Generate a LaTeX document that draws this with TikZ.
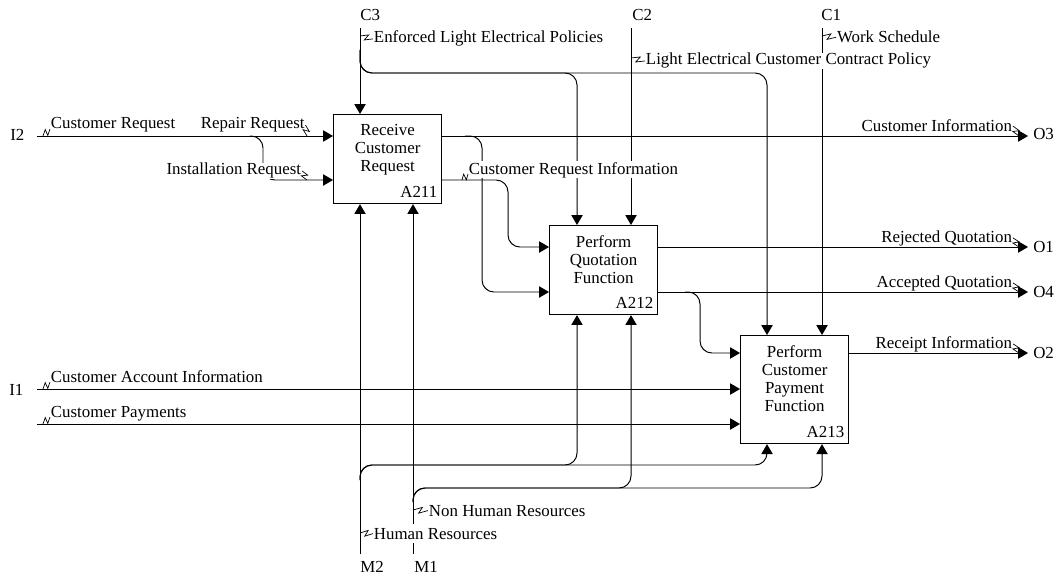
\documentclass[tikz,border=0pt]{standalone}
\usepackage{fontspec}
\setmainfont{Liberation Serif}
\usetikzlibrary{arrows.meta,calc}

\newcommand{\boxfont}{\fontsize{12}{12.8}\selectfont}
\newcommand{\squig}[2]{\draw[squigline] (#1) -- ($(#1)!.62!(#2)!2.1pt!90:(#2)$) -- ($(#1)!.38!(#2)!2.1pt!-90:(#2)$) -- (#2);}

\tikzset{
  flow/.style={draw, line width=0.7pt, rounded corners=8.5pt, -{Triangle[length=7pt,width=8pt]}},
  fnbox/.style={draw, line width=0.8pt, fill=white, anchor=north west, inner sep=0pt, minimum width=2.7cm, minimum height=2.225cm},
  fntext/.style={align=center, inner sep=0pt, anchor=north, font=\boxfont},
  fnid/.style={anchor=base east, inner sep=0pt, font=\boxfont},
  lbl/.style={fill=white, inner sep=0.5pt, font=\boxfont},
  edge/.style={anchor=base west, inner sep=0pt, font=\boxfont},
  squigline/.style={line width=0.5pt}
}

\begin{document}
\begin{tikzpicture}[x=0.025cm, y=-0.025cm]
  \useasboundingbox (0,0) rectangle (1056,577);

  % activities
  \node[fnbox] (a211) at (333,114) {};
  \node[fnbox] (a212) at (549,225) {};
  \node[fnbox, minimum height=2.7cm] (a213) at (740,335) {};
  \node[fntext] at ([yshift=-6.8pt]a211.north) {Receive\\Customer\\Request};
  \node[fntext] at ([yshift=-7pt]a212.north) {Perform\\Quotation\\Function};
  \node[fntext] at ([yshift=-7pt]a213.north) {Perform\\Customer\\Payment\\Function};
  \node[fnid] at ([xshift=-3.3pt,yshift=4.6pt]a211.south east) {A211};
  \node[fnid] at ([xshift=-3.3pt,yshift=4.6pt]a212.south east) {A212};
  \node[fnid] at ([xshift=-3.3pt,yshift=4.6pt]a213.south east) {A213};

  % boundary ends
  \coordinate (i2) at (37,136);
  \coordinate (i1) at (37,389);
  \coordinate (ip) at (37,424);
  \coordinate (c3) at (360,28);
  \coordinate (c2) at (631,28);
  \coordinate (c1) at (822,28);
  \coordinate (m2) at (360,554);
  \coordinate (m1) at (413,554);
  \coordinate (o3) at (1028,136);
  \coordinate (o1) at (1028,247);
  \coordinate (o4) at (1028,292);
  \coordinate (o2) at (1028,353);

  \node[edge] (i2lbl) at (10,141) {I2};
  \node[edge] (i1lbl) at (9,395) {I1};
  \node[edge] (c3lbl) at (360,21) {C3};
  \node[edge] (c2lbl) at (632,21) {C2};
  \node[edge] (c1lbl) at (821,21) {C1};
  \node[edge] (o3lbl) at (1033,140) {O3};
  \node[edge] (o1lbl) at (1033,252) {O1};
  \node[edge] (o4lbl) at (1033,297) {O4};
  \node[edge] (o2lbl) at (1033,358) {O2};
  \node[edge] (m2lbl) at (360,572) {M2};
  \node[edge] (m1lbl) at (414,572) {M1};

  % inputs
  \draw[flow] (i2) -- (i2 -| a211.west);
  \draw[flow] (250,136) -| (263,180) -- (a211.west |- 0,180);
  \draw[flow] (i1) -- (i1 -| a213.west);
  \draw[flow] (ip) -- (ip -| a213.west);

  % controls
  \draw[flow] (c3) -- (c3 |- a211.north);
  \draw[flow] (360,50) |- (577,73) -- (577,0 |- a212.north);
  \draw[flow] (360,50) |- (767,73) -- (767,0 |- a213.north);
  \draw[flow] (c2) -- (c2 |- a212.north);
  \draw[flow] (c1) -- (c1 |- a213.north);

  % outputs
  \draw[flow] (a211.east |- i2) -- (o3);
  \draw[flow] (465,136) -| (482,292) -- (a212.west |- 0,292);
  \draw[flow] (a211.east |- 0,180) -| (508,247) -- (a212.west |- 0,247);
  \draw[flow] (a212.east |- o1) -- (o1);
  \draw[flow] (a212.east |- o4) -- (o4);
  \draw[flow] (685,292) -| (700,353) -- (a213.west |- o2);
  \draw[flow] (a213.east |- o2) -- (o2);

  % mechanisms
  \draw[flow] (m2) -- (m2 |- a211.south);
  \draw[flow] (360,480) |- (577,465) -- (577,0 |- a212.south);
  \draw[flow] (360,480) |- (767,465) -- (767,0 |- a213.south);
  \draw[flow] (m1) -- (m1 |- a211.south);
  \draw[flow] (413,502) |- (631,488) -- (c2 |- a212.south);
  \draw[flow] (413,502) |- (822,488) -- (c1 |- a213.south);

  % arrow labels
  \node[lbl, anchor=base west] (crq) at (50,129) {Customer Request};
  \node[lbl, anchor=base west] (rpq) at (200,129) {Repair Request};
  \node[lbl, anchor=base east] (inq) at (302,175) {Installation Request};
  \node[lbl, anchor=base west] (cai) at (50,382) {Customer Account Information};
  \node[lbl, anchor=base west] (cpy) at (50,417) {Customer Payments};
  \node[lbl, anchor=base west] (elp) at (373,43) {Enforced Light Electrical Policies};
  \node[lbl, anchor=base west] (lec) at (645,65) {Light Electrical Customer Contract Policy};
  \node[lbl, anchor=base west] (wks) at (836,43) {Work Schedule};
  \node[lbl, anchor=base west] (cri) at (468,174) {Customer Request Information};
  \node[lbl, anchor=base east] (cin) at (1013,132) {Customer Information};
  \node[lbl, anchor=base east] (rjq) at (1013,242) {Rejected Quotation};
  \node[lbl, anchor=base east] (acq) at (1013,287) {Accepted Quotation};
  \node[lbl, anchor=base east] (rci) at (1013,348) {Receipt Information};
  \node[lbl, anchor=base west] (nhr) at (428,516) {Non Human Resources};
  \node[lbl, anchor=base west, inner ysep=3pt] (hmr) at (373,539) {Human Resources};

  % squiggles
  \squig{43,136}{crq.base west}
  \squig{rpq.east}{307,136}
  \squig{inq.east}{307,180}
  \squig{43,389}{cai.base west}
  \squig{43,424}{cpy.base west}
  \squig{462,180}{cri.base west}
  \squig{360,36}{elp.west}
  \squig{631,58}{lec.west}
  \squig{822,36}{wks.west}
  \squig{cin.east}{1019,136}
  \squig{rjq.east}{1019,247}
  \squig{acq.east}{1019,292}
  \squig{rci.east}{1019,353}
  \squig{413,510}{nhr.west}
  \squig{360,533}{hmr.west}
\end{tikzpicture}
\end{document}
